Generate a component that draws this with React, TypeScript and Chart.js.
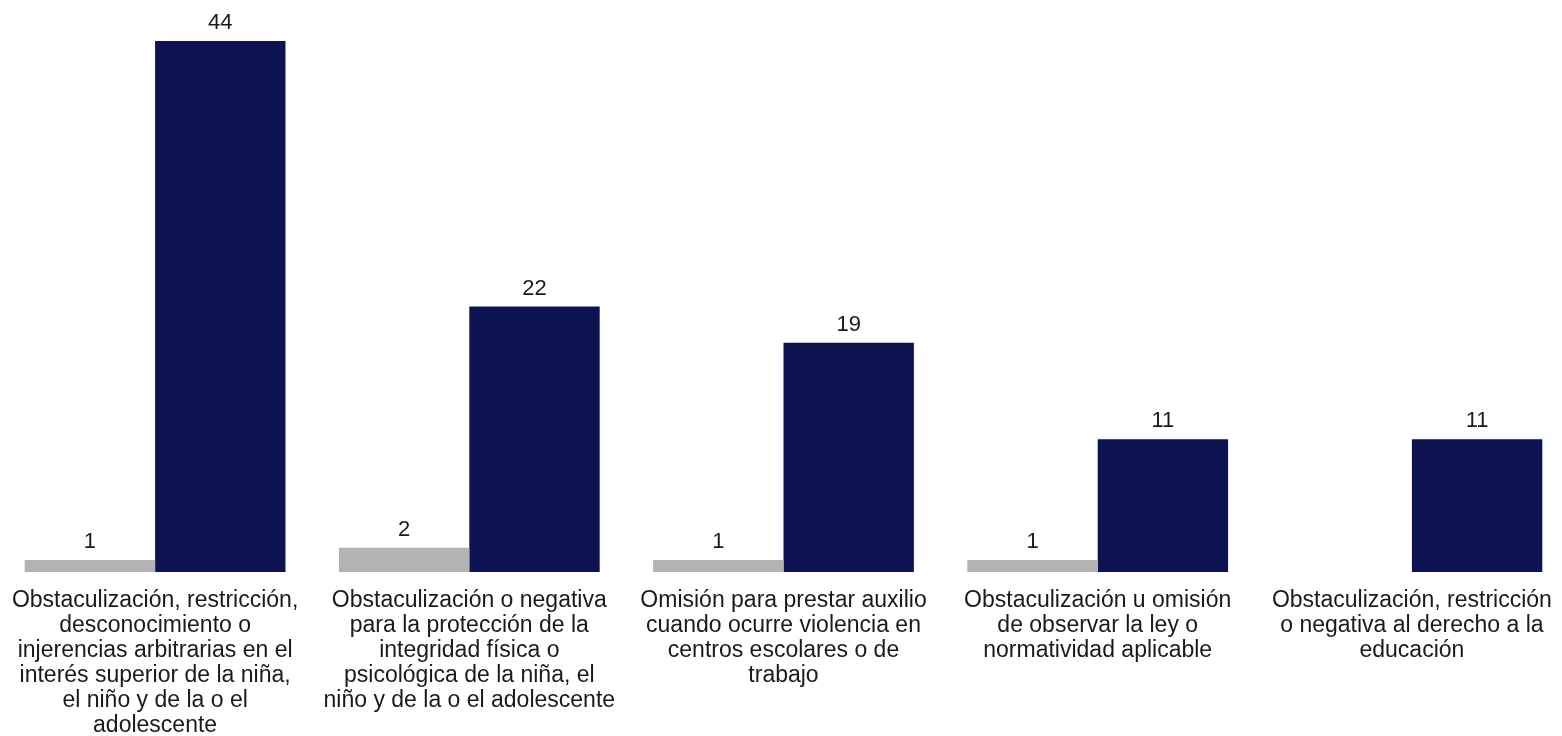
import React, { useEffect, useRef } from "react";
import { Chart, registerables } from "chart.js";

Chart.register(...registerables);

const categories: string[][] = [
  ["Obstaculización, restricción,", "desconocimiento o", "injerencias arbitrarias en el", "interés superior de la niña,", "el niño y de la o el", "adolescente"],
  ["Obstaculización o negativa", "para la protección de la", "integridad física o", "psicológica de la niña, el", "niño y de la o el adolescente"],
  ["Omisión para prestar auxilio", "cuando ocurre violencia en", "centros escolares o de", "trabajo"],
  ["Obstaculización u omisión", "de observar la ley o", "normatividad aplicable"],
  ["Obstaculización, restricción", "o negativa al derecho a la", "educación"],
];

const seriesGray: (number | null)[] = [1, 2, 1, 1, null];
const seriesNavy: number[] = [44, 22, 19, 11, 11];

const FONT = "'Liberation Sans', Arial, sans-serif";

const valueLabels = {
  id: "valueLabels",
  afterDatasetsDraw(chart: any) {
    const ctx = chart.ctx;
    ctx.save();
    ctx.font = `22px ${FONT}`;
    ctx.fillStyle = "#1a1a1a";
    ctx.textAlign = "center";
    ctx.textBaseline = "alphabetic";
    chart.data.datasets.forEach((ds: any, i: number) => {
      const meta = chart.getDatasetMeta(i);
      meta.data.forEach((bar: any, j: number) => {
        const v = ds.data[j];
        if (v === null || v === undefined) return;
        ctx.fillText(String(v), bar.x, bar.y - 12);
      });
    });
    ctx.restore();
  },
};

export default function App() {
  const ref = useRef<HTMLCanvasElement | null>(null);
  useEffect(() => {
    if (!ref.current) return;
    const chart = new Chart(ref.current, {
      type: "bar",
      data: {
        labels: categories,
        datasets: [
          { data: seriesGray, backgroundColor: "#b3b3b3", barPercentage: 1, categoryPercentage: 0.83 },
          { data: seriesNavy, backgroundColor: "#0c1350", barPercentage: 1, categoryPercentage: 0.83 },
        ],
      },
      options: {
        animation: false,
        responsive: false,
        maintainAspectRatio: false,
        layout: { padding: { top: 41, left: 0, right: 0, bottom: 0 } },
        plugins: { legend: { display: false }, tooltip: { enabled: false } },
        scales: {
          x: {
            grid: { display: false, drawTicks: false },
            border: { display: false },
            ticks: {
              color: "#1a1a1a",
              font: { family: FONT, size: 23, lineHeight: 1.09 },
              padding: 16,
              maxRotation: 0,
              autoSkip: false,
            },
            afterFit: (scale: any) => {
              scale.height = 164;
              scale.paddingLeft = 0;
              scale.paddingRight = 0;
            },
          },
          y: {
            display: false,
            min: 0,
            max: 44,
          },
        },
      },
      plugins: [valueLabels],
    });
    return () => chart.destroy();
  }, []);
  return (
    <div style={{ position: "fixed", left: 0, top: 0, width: 1562, height: 736, overflow: "hidden", background: "#fff" }}>
      <canvas ref={ref} width={1571} height={736} style={{ position: "absolute", left: -2, top: 0, width: 1571, height: 736 }} />
    </div>
  );
}
